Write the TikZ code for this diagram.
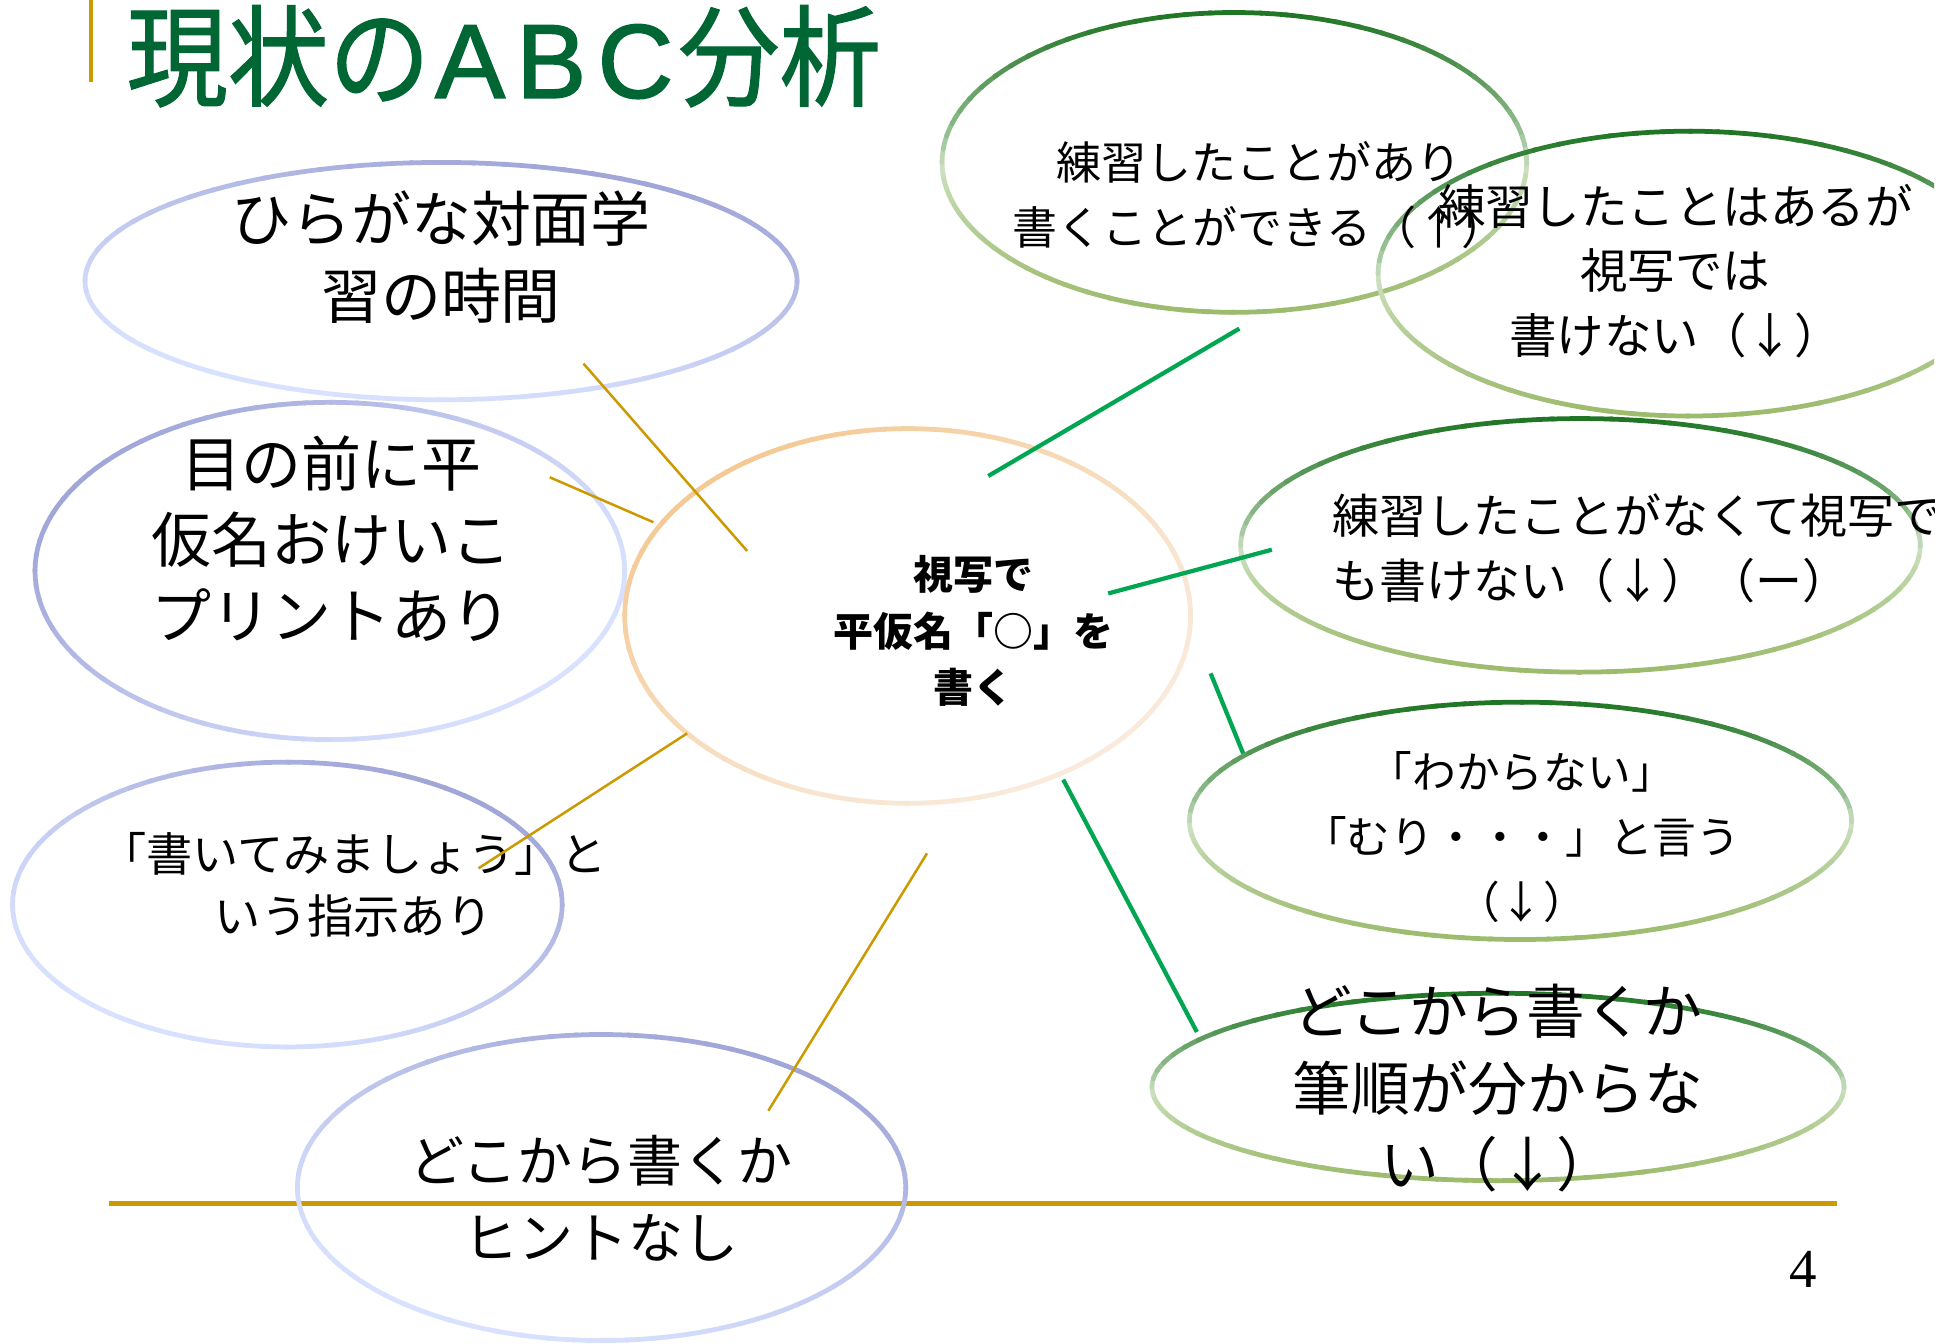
\documentclass[tikz,border=0pt]{standalone}
\usepackage{fontspec}
\newfontfamily\jp{Noto Sans CJK JP}
\newfontfamily\jptitle[FakeStretch=0.92, FakeBold=1.2]{Noto Sans CJK JP}
\newfontfamily\titlelatin[FakeBold=1.6]{Liberation Sans}
\newfontfamily\serifnum{Liberation Serif}
\definecolor{gold}{HTML}{CC9900}
\definecolor{linegreen}{HTML}{00A651}
\definecolor{titlegreen}{HTML}{006633}
\definecolor{gdark}{HTML}{1F7524}
\definecolor{glight}{HTML}{D2E5CA}
\definecolor{golive}{HTML}{9CBB6C}
\definecolor{bdark}{HTML}{A0A6D8}
\definecolor{blight}{HTML}{D8E2FF}
\definecolor{pdark}{HTML}{F4C994}
\definecolor{plight}{HTML}{F9EADC}
\tikzset{
  ellline/.style={line width=1.9pt, line cap=round},
  goldlink/.style={gold, line width=1pt},
  greenlink/.style={linegreen, line width=1.7pt},
  txt/.style={text=black, align=center, inner sep=0pt},
}
% green three-tone outline: cx cy rx ry
\newcommand\greenoutline[4]{%
  \foreach \a in {0,5,...,355}{%
    \pgfmathsetmacro\s{-sin(\a+2.5)}%
    \pgfmathsetmacro\p{100*pow(max(abs(\s),0.001),0.7)}%
    \ifdim\s pt>0pt \colorlet{segc}{gdark!\p!glight}\else\colorlet{segc}{golive!\p!glight}\fi
    \draw[ellline, segc] plot[domain=\a:\a+5.5, samples=3, variable=\t] ({#1+#3*cos(\t)},{#2+#4*sin(\t)});
  }}
% two-tone outline: cx cy rx ry dark light direction
\newcommand\twooutline[7]{%
  \foreach \a in {0,5,...,355}{%
    \pgfmathsetmacro\p{100*pow(max((1+cos(\a+2.5+#7))/2,0.001),1.3)}%
    \colorlet{segc}{#5!\p!#6}%
    \draw[ellline, segc] plot[domain=\a:\a+5.5, samples=3, variable=\t] ({#1+#3*cos(\t)},{#2+#4*sin(\t)});
  }}
\begin{document}
\begin{tikzpicture}[x=0.5pt, y=-0.5pt]
\useasboundingbox (0,0) rectangle (1568,1075);
\fill[white] (0,0) rectangle (1568,1075);
% title
\draw[gold, line width=1.5pt] (73,0) -- (73,66);
\node[anchor=west, inner sep=0pt, text=titlegreen, font={\jptitle\fontsize{44}{46}\selectfont}] (title) at (101,45) {現状の{\titlelatin\fontsize{42}{46}\selectfont\hspace{2pt}A\hspace{4.5pt}B\hspace{4.5pt}C\hspace{2pt}}分析};
% bottom rule and page number
\draw[gold, line width=2pt] (87,963) -- (1470,963);
\node[font={\serifnum\fontsize{22}{24}\selectfont}, inner sep=0pt] (pagenum) at (1443,1016) {4};
\begin{scope}
\clip (0,0) rectangle (1548,1075);
% outlines
\twooutline{353}{225}{285}{95}{bdark}{blight}{60}
\twooutline{264}{457}{236}{135}{bdark}{blight}{150}
\twooutline{230}{724}{220}{114}{bdark}{blight}{50}
\twooutline{481.5}{950.5}{243.5}{122.5}{bdark}{blight}{55}
\twooutline{726.5}{493}{226.5}{150}{pdark}{plight}{135}
\greenoutline{988}{130}{234}{120}
\greenoutline{1352}{219}{249}{114}
\greenoutline{1265}{436.5}{272}{101.5}
\greenoutline{1217}{657}{265}{95}
\greenoutline{1199}{870}{277}{75}
% texts
\node[txt, font={\jp\fontsize{24}{31}\selectfont}] (hiragana) at (353,206) {ひらがな対面学\\習の時間};
\node[txt, font={\jp\fontsize{24}{30.5}\selectfont}] (menomae) at (265,431) {目の前に平\\仮名おけいこ\\プリントあり};
\node[txt, font={\jp\fontsize{18.5}{25}\selectfont}] (shiji) at (283,708) {「書いてみましょう」と\\いう指示あり};
\node[txt, font={\jp\fontsize{22}{31}\selectfont}] (hint) at (481,959) {どこから書くか\\ヒントなし};
\node[txt, font={\jp\bfseries\fontsize{16}{22.5}\selectfont}] (center) at (779,505) {視写で\\平仮名「○」を\\書く};
\node[txt, font={\jp\fontsize{18}{26}\selectfont}] (dekiru) at (1008,156) {練習したことがあり\\書くことができる（↑）};
\node[txt, font={\jp\fontsize{19}{25.75}\selectfont}] (kakenai) at (1341,217) {練習したことはあるが\\視写では\\書けない（↓）};
\node[txt, anchor=west, align=left, font={\jp\fontsize{18.8}{26}\selectfont}] (nakute) at (1066,439) {練習したことがなくて視写で\\も書けない（↓）（ー）};
\node[txt, font={\jp\fontsize{17.5}{26}\selectfont}] (wakaranai) at (1218,670) {「わからない」\\「むり・・・」と言う\\（↓）};
\node[txt, font={\jp\fontsize{23.5}{30.5}\selectfont}] (hitsujun) at (1199,871) {どこから書くか\\筆順が分からな\\い（↓）};
\end{scope}
% connectors
\coordinate (c1a) at (467,291); \coordinate (c1b) at (598,441);
\coordinate (c2a) at (440,382); \coordinate (c2b) at (523,418);
\coordinate (c3a) at (383,695); \coordinate (c3b) at (550,587);
\coordinate (c4a) at (615,889); \coordinate (c4b) at (742,683);
\coordinate (g1a) at (791,381); \coordinate (g1b) at (992,263);
\coordinate (g3a) at (887,475); \coordinate (g3b) at (1018,440);
\coordinate (g4a) at (969,539); \coordinate (g4b) at (995,603);
\coordinate (g5a) at (851,624); \coordinate (g5b) at (958,826);
\draw[goldlink] (c1a) -- (c1b);
\draw[goldlink] (c2a) -- (c2b);
\draw[goldlink] (c3a) -- (c3b);
\draw[goldlink] (c4a) -- (c4b);
\draw[greenlink] (g1a) -- (g1b);
\draw[greenlink] (g3a) -- (g3b);
\draw[greenlink] (g4a) -- (g4b);
\draw[greenlink] (g5a) -- (g5b);
\end{tikzpicture}
\end{document}
